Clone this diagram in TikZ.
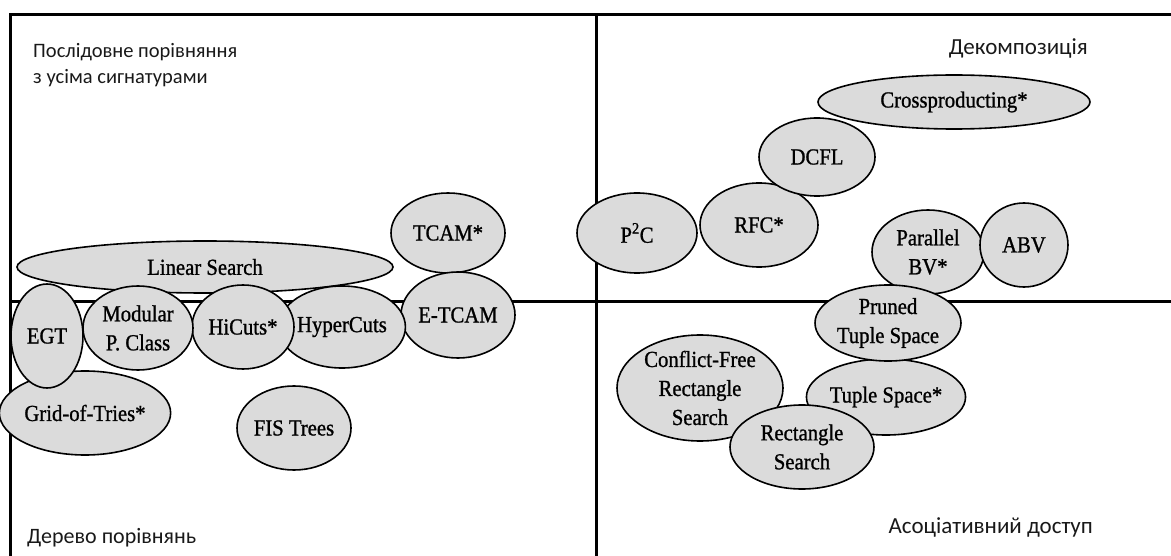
\documentclass[tikz,border=0pt]{standalone}
\usepackage{fontspec}
\setmainfont{Liberation Serif}[FakeStretch=0.9, FakeBold=1]
\newfontfamily\uafont{Carlito}
\usetikzlibrary{shapes.geometric}

\begin{document}
\begin{tikzpicture}[
  x=1pt, y=-1pt,
  every node/.style={inner sep=0pt},
  algo/.style={draw, ellipse, fill=black!14, line width=1.6pt, align=center,
    font=\fontsize{23}{29}\selectfont},
  zone/.style={text=black!90, align=left},
  frame/.style={line width=3pt}
]
\useasboundingbox (0,0) rectangle (1171,556);
% quadrants
\draw[frame] (10,556) -- (10,15) -- (1171,15);
\draw[frame] (596,15) -- (596,556);
\draw[frame] (10,302) -- (1171,302);

\node[zone, anchor=west, font=\uafont\fontsize{20.5}{26}\selectfont] (seq) at (33,65) {Послідовне порівняння\\з усіма сигнатурами};
\node[zone, anchor=east, font=\uafont\fontsize{23}{26}\selectfont] (decomp) at (1088,48) {Декомпозиція};
\node[zone, anchor=west, font=\uafont\fontsize{22}{26}\selectfont] (tree) at (27,538) {Дерево порівнянь};
\node[zone, anchor=east, font=\uafont\fontsize{23}{26}\selectfont] (assoc) at (1093,527) {Асоціативний доступ};

% top row
\node[algo, minimum width=376, minimum height=52] (linear) at (205,267) {Linear Search};
\node[algo, minimum width=114, minimum height=80] (tcam) at (448,233) {TCAM*};
\node[algo, minimum width=120, minimum height=80] (ptwoc) at (637,233) {P\textsuperscript{2}C};
\node[algo, minimum width=118, minimum height=84] (rfc) at (759,225) {RFC*};
\node[algo, minimum width=272, minimum height=54] (cross) at (954,102) {Crossproducting*};
\node[algo, minimum width=116, minimum height=78] (dcfl) at (817,157) {DCFL};
\node[algo, minimum width=112, minimum height=84] (pbv) at (928,252) {Parallel\\BV*};
\node[algo, minimum width=88, minimum height=84] (abv) at (1024,245) {ABV};

% associative
\node[algo, minimum width=144, minimum height=76] (tuple) at (886,397) {Tuple Space*};
\node[algo, minimum width=146, minimum height=76] (pruned) at (888,323) {Pruned\\Tuple Space};
\node[algo, minimum width=166, minimum height=106] (cfrs) at (700,388) {Conflict-Free\\Rectangle\\Search};
\node[algo, minimum width=144, minimum height=84] (rect) at (802,447) {Rectangle\\Search};

% decision trees
\node[algo, minimum width=114, minimum height=86] (etcam) at (458,315) {E-TCAM};
\node[algo, minimum width=112, minimum height=82] (hyper) at (342,327) {HyperCuts};
\node[algo, minimum width=102, minimum height=84] (hicuts) at (243,327) {HiCuts*};
\node[algo, minimum width=110, minimum height=84] (modular) at (138,328) {Modular\\P. Class};
\node[algo, minimum width=146, minimum height=84] (grid) at (85,413) {Grid-of-Tries*};
\node[algo, minimum width=72, minimum height=104] (egt) at (47,336) {EGT};
\node[algo, minimum width=114, minimum height=84] (fis) at (294,428) {FIS Trees};
\end{tikzpicture}
\end{document}
